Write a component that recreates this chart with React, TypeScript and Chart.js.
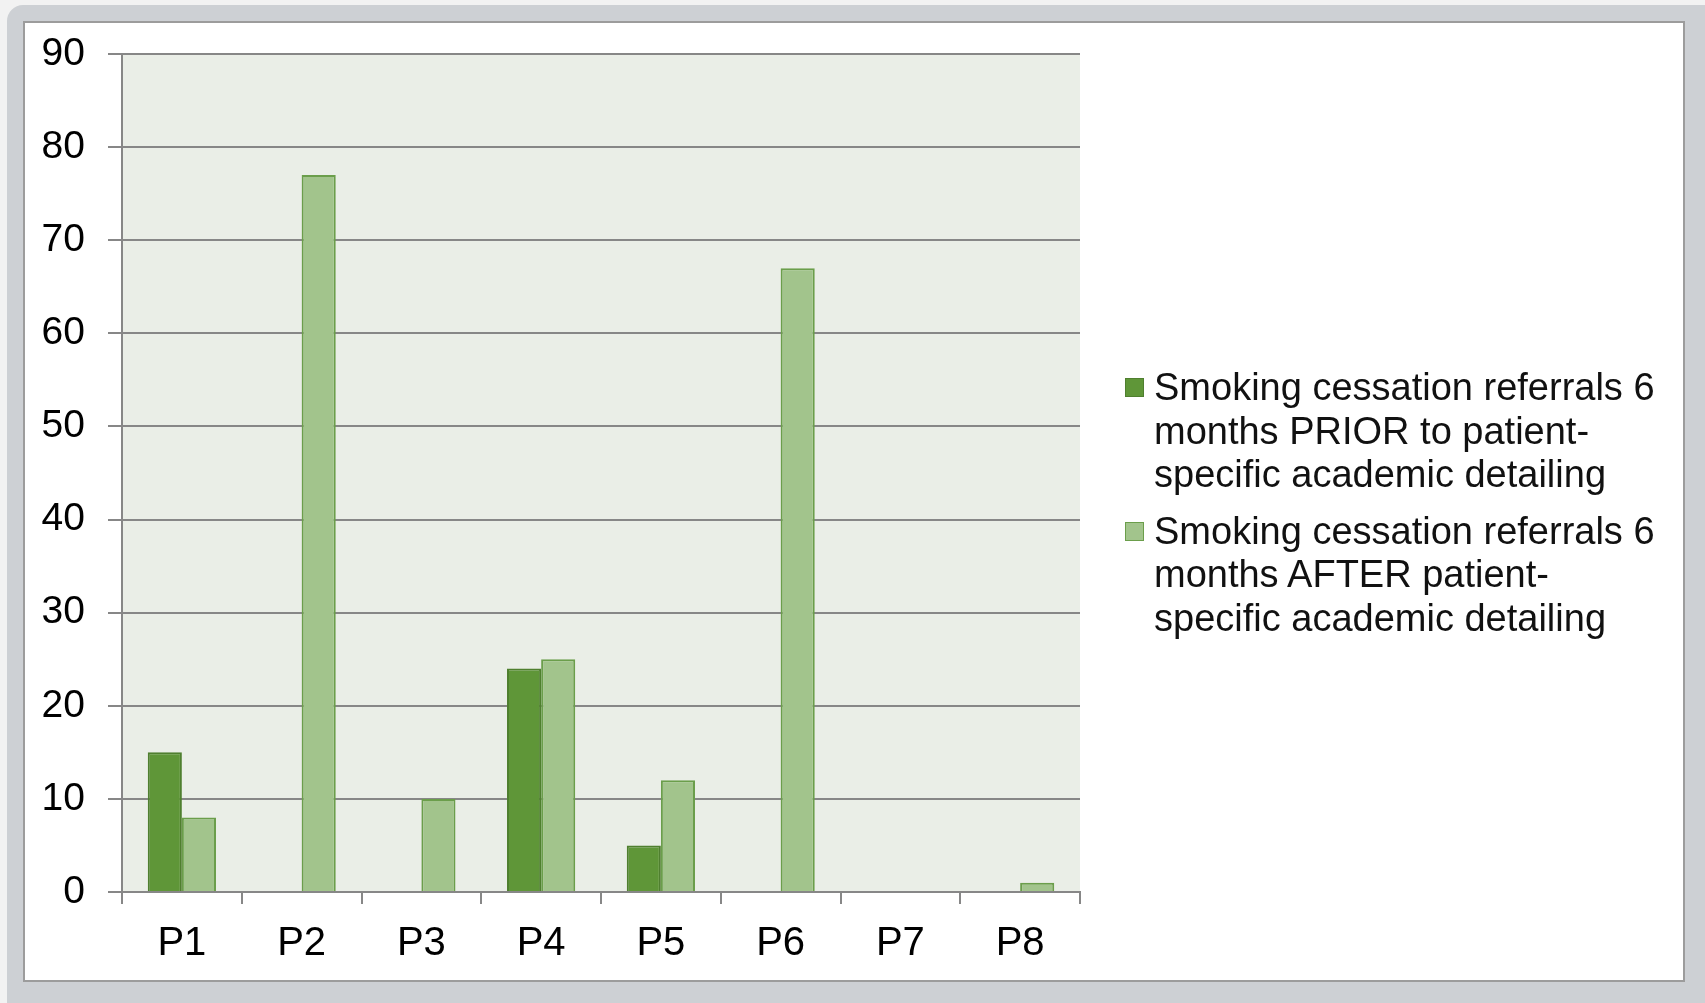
import React, { useEffect, useRef } from "react";
import { Chart, registerables } from "chart.js";

Chart.register(...registerables);

const categories = ["P1", "P2", "P3", "P4", "P5", "P6", "P7", "P8"];
const priorValues = [15, 0, 0, 24, 5, 0, 0, 0];
const afterValues = [8, 77, 10, 25, 12, 67, 0, 1];
const seriesLabels = [
  ["Smoking cessation referrals 6", "months PRIOR to patient-", "specific academic detailing"],
  ["Smoking cessation referrals 6", "months AFTER patient-", "specific academic detailing"],
];
const yMin = 0;
const yMax = 90;
const yStep = 10;

const FONT = '"Liberation Sans", Arial, sans-serif';
const DARK = "#5F9638";
const DARK_BORDER = "#4F7F2F";
const LIGHT = "#A2C48C";
const LIGHT_BORDER = "#6B9E4B";
const GRID = "#878787";

const CANVAS_W = 1100;
const CANVAS_H = 950;

const plotBg = {
  id: "plotBg",
  beforeDraw(chart: any) {
    const { ctx, chartArea } = chart;
    ctx.save();
    ctx.fillStyle = "#EAEEE7";
    ctx.fillRect(chartArea.left, chartArea.top, chartArea.right - chartArea.left, chartArea.bottom - chartArea.top);
    ctx.restore();
  },
};

export default function App() {
  const ref = useRef<HTMLCanvasElement>(null);

  useEffect(() => {
    const chart = new Chart(ref.current as HTMLCanvasElement, {
      type: "bar",
      data: {
        labels: categories,
        datasets: [
          {
            label: seriesLabels[0].join(" "),
            data: priorValues.map((v) => (v === 0 ? null : v)),
            backgroundColor: DARK,
            borderColor: DARK_BORDER,
            borderWidth: 2,
            categoryPercentage: 0.57,
            barPercentage: 1,
          },
          {
            label: seriesLabels[1].join(" "),
            data: afterValues.map((v) => (v === 0 ? null : v)),
            backgroundColor: LIGHT,
            borderColor: LIGHT_BORDER,
            borderWidth: 2,
            categoryPercentage: 0.57,
            barPercentage: 1,
          },
        ],
      },
      options: {
        animation: false,
        responsive: false,
        devicePixelRatio: 1,
        layout: { padding: { top: 30, right: 46, left: 0, bottom: 0 } },
        plugins: {
          legend: { display: false },
          tooltip: { enabled: false },
        },
        scales: {
          x: {
            grid: {
              display: true,
              drawOnChartArea: false,
              drawTicks: true,
              tickLength: 12,
              color: GRID,
              lineWidth: 2,
            },
            border: { display: true, color: GRID, width: 2 },
            ticks: {
              color: "#000",
              font: { family: FONT, size: 40 },
              padding: 16,
              maxRotation: 0,
            },
            afterFit(scale: any) {
              scale.height = 82;
              scale.paddingLeft = 0;
              scale.paddingRight = 0;
            },
          },
          y: {
            min: yMin,
            max: yMax,
            ticks: {
              stepSize: yStep,
              color: "#000",
              font: { family: FONT, size: 39 },
              padding: 23,
            },
            grid: {
              color: GRID,
              lineWidth: 2,
              drawTicks: true,
              tickLength: 14,
            },
            border: { display: true, color: GRID, width: 2 },
            afterFit(scale: any) {
              scale.width = 96;
              scale.paddingTop = 0;
              scale.paddingBottom = 0;
            },
          },
        },
      },
      plugins: [plotBg],
    });
    return () => chart.destroy();
  }, []);

  const legendColors = [
    [DARK, DARK_BORDER],
    [LIGHT, LIGHT_BORDER],
  ];

  return (
    <div
      style={{
        position: "fixed",
        left: 0,
        top: 0,
        width: 1705,
        height: 1003,
        background: "#F2F2F2",
        overflow: "hidden",
      }}
    >
      <div
        style={{
          position: "absolute",
          left: 7,
          top: 5,
          width: 1720,
          height: 1020,
          background: "#CDD0D4",
          borderRadius: 16,
        }}
      />
      <div
        style={{
          position: "absolute",
          left: 23,
          top: 21,
          width: 1658,
          height: 957,
          background: "#FFFFFF",
          border: "2px solid #9C9C9C",
        }}
      >
        <canvas
          ref={ref}
          width={CANVAS_W}
          height={CANVAS_H}
          style={{ position: "absolute", left: 1, top: 1, width: CANVAS_W, height: CANVAS_H }}
        />
        <div
          style={{
            position: "absolute",
            left: 1100,
            top: 343,
            fontFamily: FONT,
            fontSize: 38,
            lineHeight: "43.5px",
            color: "#111",
          }}
        >
          {seriesLabels.map((lines, i) => (
            <div key={i} style={{ position: "relative", paddingLeft: 29, marginBottom: i === 0 ? 13 : 0 }}>
              <div
                style={{
                  position: "absolute",
                  left: 0,
                  top: 12,
                  width: 17,
                  height: 17,
                  background: legendColors[i][0],
                  border: `1px solid ${legendColors[i][1]}`,
                }}
              />
              {lines.map((l, j) => (
                <div key={j} style={{ whiteSpace: "nowrap" }}>
                  {l}
                </div>
              ))}
            </div>
          ))}
        </div>
      </div>
    </div>
  );
}
